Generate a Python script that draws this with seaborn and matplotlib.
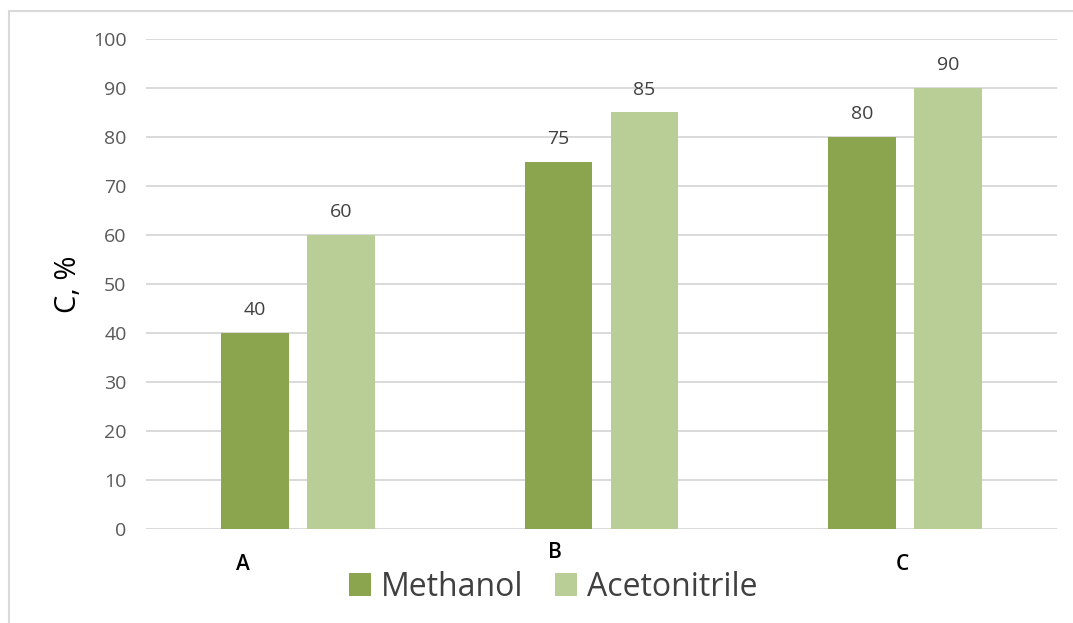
import matplotlib
matplotlib.use("Agg")
import matplotlib.pyplot as plt
import seaborn as sns
import pandas as pd
from matplotlib.patches import Rectangle, Patch
import matplotlib.transforms as mtransforms

categories = ["A", "B", "C"]
series_names = ["Methanol", "Acetonitrile"]
methanol = [40, 75, 80]
acetonitrile = [60, 85, 90]
colors = ["#8aa54e", "#b9cd96"]
yticks = [0, 10, 20, 30, 40, 50, 60, 70, 80, 90, 100]
ylabel = "C, %"

df = pd.DataFrame({
    "cat": categories * 2,
    "series": [series_names[0]] * 3 + [series_names[1]] * 3,
    "value": methanol + acetonitrile,
})

sns.set_style("white")
plt.rcParams["font.family"] = ["Open Sans", "DejaVu Sans"]

W, H = 1073, 623
fig = plt.figure(figsize=(W / 100, H / 100), dpi=100)
ax = fig.add_axes([146 / W, 1 - 529 / H, (1057 - 146) / W, (529 - 39) / H])

sns.barplot(data=df, x="cat", y="value", hue="series", order=categories,
            hue_order=series_names, palette=colors, width=0.566, gap=0.21,
            saturation=1, ax=ax, legend=False, errorbar=None, linewidth=0,
            edgecolor="none")

ax.set_xlim(-0.5, 2.5)
ax.set_ylim(0, 100)
ax.set_yticks(yticks)
ax.set_yticklabels([str(v) for v in yticks], fontsize=14, color="#595959")
ax.yaxis.grid(True, color="#d9d9d9", linewidth=1.4)
ax.set_axisbelow(True)
for s in ax.spines.values():
    s.set_visible(False)
ax.tick_params(axis="y", length=0, pad=14)
ax.tick_params(axis="x", length=0)
ax.set_xlabel("")
ax.set_ylabel(ylabel, fontsize=21, color="#000000", labelpad=7)

for cont in ax.containers:
    ax.bar_label(cont, fmt="%d", padding=10, fontsize=14, color="#404040")

# category labels (offset as in reference)
ax.set_xticks([])
label_x = [-0.18, 0.847, 1.99]
label_dy = [36, 24, 36]
for lx, dy, t in zip(label_x, label_dy, categories):
    trans = mtransforms.blended_transform_factory(ax.transData, ax.transAxes)
    off = mtransforms.ScaledTranslation(0, -dy / 100, fig.dpi_scale_trans)
    ax.text(lx, 0, t, transform=trans + off, ha="center", va="center",
            fontsize=15, fontweight="semibold", color="#000000")

handles = [Patch(facecolor=c, edgecolor="none") for c in colors]
fig.legend(handles, series_names, loc="center", bbox_to_anchor=(553 / W, 1 - 587 / H),
           ncol=2, frameon=False, fontsize=23, handlelength=0.7, handleheight=0.7,
           handletextpad=0.3, columnspacing=1.0, labelcolor="#404040")

fig.patches.append(Rectangle((8.5 / W, -0.2), 1.2, 1 - 11 / H + 0.2, transform=fig.transFigure,
                             fill=False, edgecolor="#d9d9d9", linewidth=1.5))

fig.savefig("out.png", dpi=100)
